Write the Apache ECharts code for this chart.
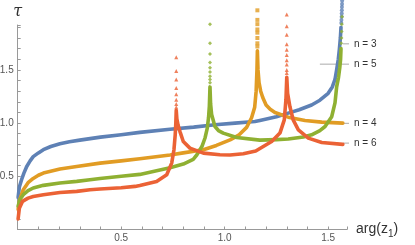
<!DOCTYPE html>
<html>
<head>
<meta charset="utf-8">
<script src="https://cdn.jsdelivr.net/npm/echarts@6/dist/echarts.min.js"></script>
<style>
html,body{margin:0;padding:0;background:#fff;}
#chart{width:415px;height:245px;}
</style>
</head>
<body>
<div id="chart"></div>
<script>
// ---- data (x = arg(z1), y = tau) ----
const seriesNames = ['n = 3', 'n = 4', 'n = 5', 'n = 6'];
const seriesColors = ['#5E81B5', '#E19C24', '#8FB032', '#EB6235'];
const seriesMarkers = ['circle', 'rect', 'diamond', 'triangle'];

const n3Curve = [[0.002,0.30],[0.008,0.40],[0.019,0.47],[0.03,0.53],[0.043,0.59],[0.06,0.645],[0.075,0.685],[0.1,0.72],[0.124,0.75],[0.16,0.78],[0.204,0.805],[0.25,0.825],[0.3,0.84],[0.4,0.868],[0.5,0.89],[0.59,0.913],[0.736,0.943],[0.85,0.962],[0.953,0.984],[1.05,1.0],[1.146,1.015],[1.17,1.025],[1.25,1.06],[1.307,1.094],[1.36,1.125],[1.42,1.17],[1.46,1.215],[1.50,1.28],[1.52,1.34],[1.533,1.41],[1.541,1.50],[1.549,1.60],[1.554,1.69],[1.559,1.80],[1.562,1.90]];
const n3Dots = [[1.5635,1.94],[1.564,1.97],[1.565,2.00],[1.5655,2.03],[1.566,2.06],[1.5665,2.09],[1.567,2.12],[1.5675,2.15]];

const n4Curve = [[0.002,0.19],[0.01,0.28],[0.027,0.374],[0.05,0.44],[0.075,0.48],[0.1,0.51],[0.124,0.53],[0.204,0.568],[0.285,0.593],[0.398,0.624],[0.5,0.645],[0.59,0.665],[0.736,0.70],[0.8,0.72],[0.897,0.75],[0.96,0.79],[1.026,0.843],[1.07,0.89],[1.106,0.96],[1.13,1.05],[1.145,1.15],[1.152,1.30],[1.156,1.50],[1.158,1.68],[1.161,1.50],[1.166,1.38],[1.174,1.30],[1.184,1.24],[1.2,1.17],[1.22,1.13],[1.243,1.10],[1.307,1.056],[1.388,1.025],[1.469,1.009],[1.5708,1.0]];
const n4Dots = [[1.158,1.72],[1.158,1.75],[1.158,1.80],[1.158,1.85],[1.158,1.88],[1.158,1.93],[1.158,1.97],[1.158,2.06]];

const n5Curve = [[0.002,0.22],[0.01,0.28],[0.027,0.327],[0.05,0.365],[0.075,0.39],[0.124,0.415],[0.204,0.437],[0.285,0.452],[0.349,0.467],[0.398,0.48],[0.5,0.50],[0.59,0.518],[0.671,0.552],[0.736,0.58],[0.8,0.615],[0.848,0.66],[0.865,0.70],[0.89,0.78],[0.905,0.86],[0.916,0.953],[0.922,1.05],[0.926,1.16],[0.929,1.34],[0.932,1.18],[0.937,1.08],[0.953,0.968],[0.97,0.93],[0.993,0.906],[1.058,0.865],[1.17,0.84],[1.25,0.845],[1.307,0.85],[1.38,0.87],[1.42,0.89],[1.46,0.93],[1.485,0.968],[1.517,1.06],[1.533,1.19],[1.541,1.34],[1.55,1.43],[1.556,1.52],[1.56,1.60],[1.562,1.70]];
const n5Dots = [[0.929,1.38],[0.929,1.41],[0.929,1.44],[0.929,1.48],[0.929,1.52],[0.929,1.57],[0.929,1.65],[0.929,1.75],[0.929,1.93],[1.563,1.75],[1.564,1.80],[1.565,1.86],[1.566,1.93],[1.567,2.00]];

const n6Curve = [[0.002,0.10],[0.008,0.20],[0.023,0.264],[0.05,0.295],[0.075,0.31],[0.124,0.327],[0.204,0.348],[0.285,0.358],[0.349,0.374],[0.398,0.38],[0.5,0.392],[0.567,0.405],[0.59,0.414],[0.671,0.452],[0.72,0.514],[0.744,0.624],[0.755,0.75],[0.761,0.89],[0.764,1.0],[0.766,1.12],[0.769,1.04],[0.775,0.98],[0.784,0.92],[0.8,0.827],[0.832,0.765],[0.897,0.718],[0.977,0.702],[1.026,0.70],[1.09,0.712],[1.15,0.738],[1.227,0.827],[1.267,0.906],[1.288,1.03],[1.296,1.22],[1.3,1.43],[1.304,1.28],[1.315,1.156],[1.331,1.03],[1.356,0.937],[1.404,0.859],[1.469,0.818],[1.5708,0.80]];
const n6Dots = [[0.766,1.15],[0.766,1.18],[0.766,1.22],[0.766,1.27],[0.766,1.33],[0.766,1.41],[0.766,1.49],[0.766,1.62],[1.30,1.47],[1.30,1.50],[1.30,1.55],[1.30,1.59],[1.30,1.64],[1.30,1.69],[1.30,1.74],[1.30,1.83],[1.30,1.91],[1.30,2.02]];

const curves = [n3Curve, n4Curve, n5Curve, n6Curve];
const dots = [n3Dots, n4Dots, n5Dots, n6Dots];

// label leader lines: [x start, x end, tau, text]
const labelLeaders = [[1.572, 1.742, 1.745, 'n = 3'], [1.46, 1.742, 1.554, 'n = 5'], [1.576, 1.742, 0.998, 'n = 4'], [1.572, 1.742, 0.812, 'n = 6']];

const xMin = 0, xMax = 1.591, xStep = 0.1;
const yMin = 0, yMax = 1.922, yStep = 0.1;

const fmt = v => {
  const r = Math.round(v * 10);
  return (r > 0 && r % 5 === 0 && Math.abs(v * 10 - r) < 1e-6) ? v.toFixed(1) : '';
};

const axisCommon = {
  axisLine: { show: true, onZero: false, lineStyle: { color: '#999', width: 1 } },
  axisTick: { show: true, inside: true, length: 3, lineStyle: { color: '#999' } },
  splitLine: { show: false },
  axisLabel: { color: '#555', fontSize: 10, fontFamily: 'Liberation Sans', formatter: fmt, margin: 4 }
};

const series = [];
curves.forEach((c, i) => {
  series.push({
    type: 'line', name: seriesNames[i], data: c, showSymbol: false, symbol: 'none',
    clip: false, silent: true, z: 2 + i,
    lineStyle: { color: seriesColors[i], width: 3.6, join: 'round', cap: 'round' }
  });
});
dots.forEach((d, i) => {
  series.push({
    type: 'scatter', data: d, symbol: seriesMarkers[i], symbolSize: 4, clip: false, silent: true, z: 2 + i,
    itemStyle: { color: seriesColors[i] }
  });
});
labelLeaders.forEach(l => {
  series.push({
    type: 'line', data: [[l[0], l[2]], [l[1], l[2]]], showSymbol: false, symbol: 'none', clip: false, silent: true, z: 1,
    lineStyle: { color: '#aaa', width: 1 },
    endLabel: { show: true, formatter: l[3], color: '#333', fontSize: 10, fontFamily: 'Liberation Sans', distance: 5 }
  });
});

const chart = echarts.init(document.getElementById('chart'), null, { renderer: 'canvas' });
chart.setOption({
  animation: false,
  backgroundColor: '#fff',
  grid: { left: 17.7, right: 68, top: 25, bottom: 15.5, containLabel: false, outerBoundsMode: 'none' },
  xAxis: Object.assign({}, axisCommon, {
    type: 'value', min: xMin, max: xMax, interval: xStep,
    name: 'arg(z{s|1})', nameLocation: 'end', nameGap: 9,
    nameTextStyle: { color: '#333', fontSize: 14, fontFamily: 'Liberation Sans', verticalAlign: 'middle', align: 'left',
      rich: { s: { fontSize: 10, verticalAlign: 'bottom', padding: [9, 0, 0, 0], color: '#333', fontFamily: 'Liberation Sans' } } }
  }),
  yAxis: Object.assign({}, axisCommon, {
    type: 'value', min: yMin, max: yMax, interval: yStep,
    name: 'τ', nameLocation: 'end', nameGap: 5,
    nameTextStyle: { color: '#333', fontSize: 16, fontStyle: 'italic', fontFamily: 'DejaVu Serif', align: 'center' }
  }),
  series: series
});
</script>
</body>
</html>
